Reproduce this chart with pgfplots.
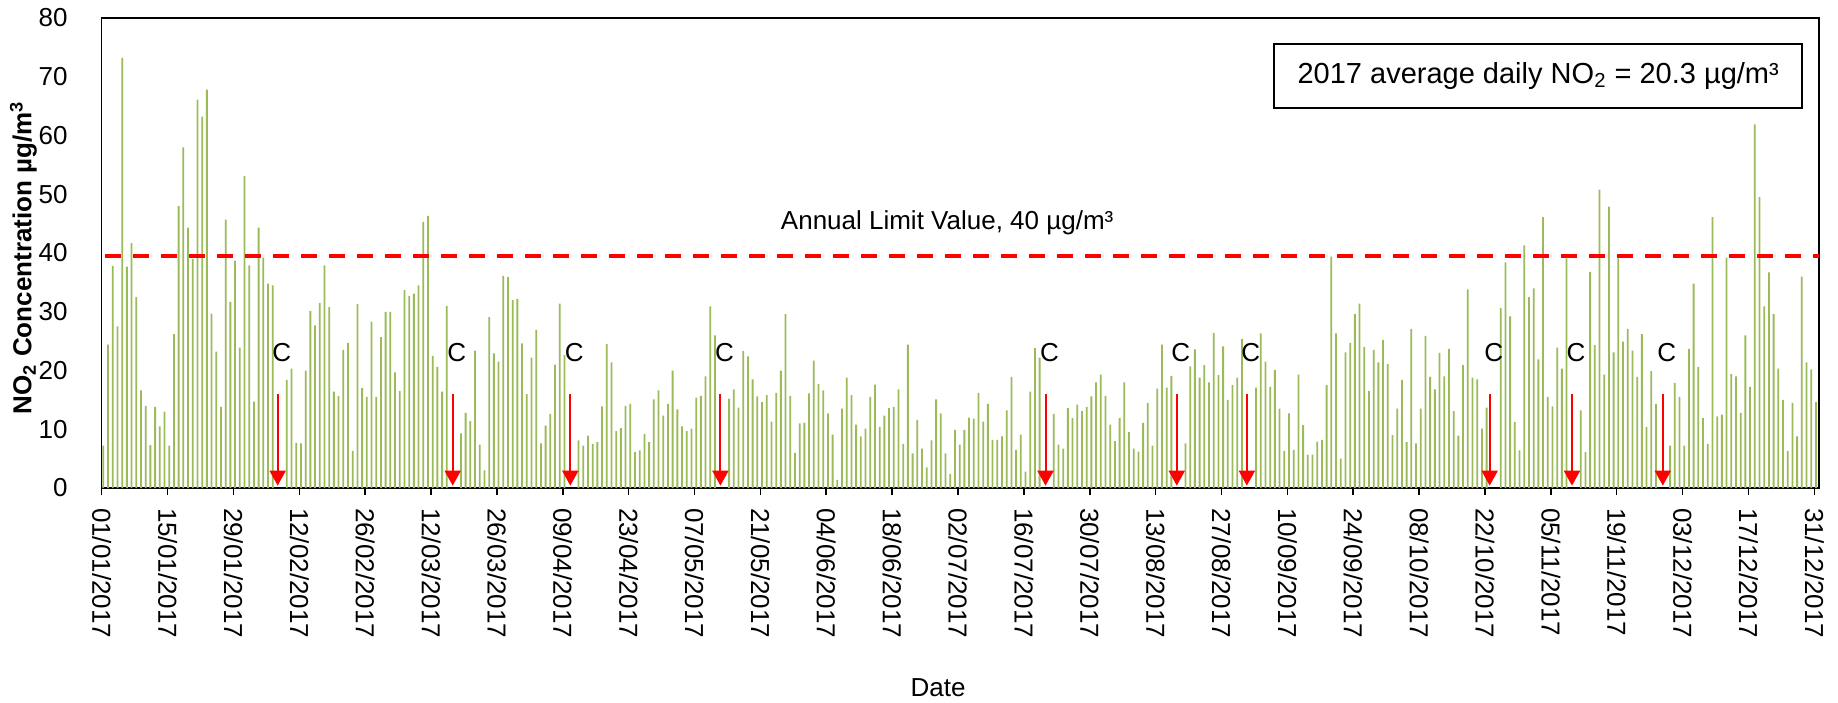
\documentclass[border=0pt]{standalone}
\usepackage{fontspec}
\setmainfont{Liberation Sans}
\usepackage{pgfplots}
\pgfplotsset{compat=1.18}
\usepackage{pgfplotstable}
\usetikzlibrary{arrows.meta,calc}
\definecolor{barG}{RGB}{155,187,89}

% daily mean NO2, day 0 = 01/01/2017 (calibration days left out)
\pgfplotstableread{
d v
0 7.2
1 24.4
2 37.8
3 27.5
4 73.2
5 37.7
6 41.7
7 32.5
8 16.6
9 14.0
10 7.3
11 13.8
12 10.5
13 13.0
14 7.2
15 26.2
16 48.0
17 58.0
18 44.3
19 39.0
20 66.1
21 63.2
22 67.8
23 29.7
24 23.2
25 13.8
26 45.7
27 31.7
28 38.7
29 23.9
30 53.1
31 37.9
32 14.7
33 44.3
34 39.2
35 34.8
36 34.5
39 18.4
40 20.3
41 7.7
42 7.6
43 20.0
44 30.1
45 27.7
46 31.5
47 37.9
48 30.8
49 16.4
50 15.7
51 23.5
52 24.7
53 6.3
54 31.3
55 17.0
56 15.5
57 28.3
58 15.5
59 25.7
60 30.0
61 30.0
62 19.7
63 16.5
64 33.7
65 32.7
66 33.1
67 34.5
68 45.3
69 46.3
70 22.5
71 20.6
72 16.4
73 31.0
76 9.3
77 12.8
78 11.4
79 23.4
80 7.4
81 3.0
82 29.1
83 22.9
84 21.5
85 36.1
86 35.9
87 32.0
88 32.2
89 24.6
90 16.0
91 22.2
92 26.9
93 7.6
94 10.6
95 12.6
96 21.0
97 31.4
98 22.6
101 8.1
102 7.2
103 8.9
104 7.5
105 7.8
106 13.9
107 24.5
108 21.4
109 9.7
110 10.2
111 14.0
112 14.3
113 6.1
114 6.4
115 9.2
116 7.8
117 15.1
118 16.6
119 12.3
120 14.3
121 20.0
122 13.4
123 10.5
124 9.7
125 10.1
126 15.4
127 15.7
128 19.0
129 30.9
130 26.0
133 15.2
134 16.8
135 13.7
136 23.3
137 22.4
138 18.5
139 15.6
140 14.6
141 15.8
142 11.3
143 16.2
144 20.0
145 29.6
146 15.7
147 6.0
148 11.0
149 11.1
150 16.1
151 21.7
152 17.7
153 16.6
154 12.7
155 9.1
156 1.4
157 13.5
158 18.8
159 15.8
160 10.8
161 8.8
162 10.1
163 15.5
164 17.6
165 10.4
166 12.3
167 13.6
168 13.8
169 16.8
170 7.5
171 24.4
172 5.9
173 11.6
174 6.7
175 3.5
176 8.1
177 15.1
178 12.7
179 5.9
180 2.4
181 9.9
182 7.4
183 9.9
184 12.0
185 11.8
186 16.2
187 11.3
188 14.3
189 8.2
190 8.2
191 8.8
192 13.2
193 18.9
194 6.5
195 9.1
196 2.8
197 16.4
198 23.8
199 22.2
202 12.6
203 7.4
204 6.7
205 13.6
206 11.9
207 14.2
208 13.1
209 13.8
210 15.6
211 18.0
212 19.3
213 15.7
214 10.8
215 8.0
216 11.9
217 18.0
218 9.5
219 6.7
220 6.2
221 11.1
222 14.5
223 7.2
224 16.9
225 24.4
226 17.1
227 19.1
230 7.6
231 20.7
232 23.6
233 18.8
234 20.9
235 18.0
236 26.4
237 19.2
238 24.1
239 15.0
240 17.5
241 18.8
242 25.4
245 17.1
246 26.3
247 21.5
248 17.2
249 20.1
250 13.5
251 6.3
252 12.7
253 6.5
254 19.3
255 10.7
256 5.7
257 5.7
258 7.9
259 8.2
260 17.5
261 39.4
262 26.3
263 5.0
264 23.1
265 24.7
266 29.6
267 31.4
268 24.0
269 16.5
270 23.5
271 21.4
272 25.2
273 21.1
274 9.0
275 13.5
276 18.4
277 7.8
278 27.1
279 7.6
280 13.5
281 25.9
282 18.9
283 16.8
284 23.0
285 19.0
286 23.7
287 13.1
288 8.9
289 20.9
290 33.8
291 18.8
292 18.5
293 10.1
294 13.7
297 30.6
298 38.4
299 29.2
300 11.2
301 6.4
302 41.3
303 32.5
304 34.0
305 21.9
306 46.1
307 15.5
308 13.9
309 23.9
310 20.3
311 39.1
314 13.2
315 6.1
316 36.8
317 24.3
318 50.8
319 19.3
320 47.9
321 23.1
322 39.1
323 24.9
324 27.1
325 23.4
326 18.9
327 26.2
328 10.4
329 19.9
330 14.3
333 7.2
334 17.9
335 15.5
336 7.2
337 23.7
338 34.8
339 20.6
340 11.9
341 7.5
342 46.1
343 12.2
344 12.5
345 39.2
346 19.4
347 19.0
348 12.8
349 26.0
350 17.2
351 61.9
352 49.5
353 30.9
354 36.7
355 29.6
356 20.3
357 15.0
358 6.3
359 14.5
360 8.8
361 36.0
362 21.4
363 20.2
364 14.6
}\notwo

% calibration markers (arrow tops)
\pgfplotstableread{
x y
37.4 16
74.6 16
99.6 16
131.5 16
200.6 16
228.5 16
243.4 16
295.0 16
312.5 16
331.8 16
}\calib

\begin{document}
\fontsize{13}{15.6}\selectfont
\begin{tikzpicture}
\begin{axis}[
    name=ax,
    scale only axis,
    width=858.65pt, height=235pt,
    xmin=0, xmax=365, ymin=0, ymax=80,
    ytick={0,10,...,80},
    xtick={0,14,...,364},
    xticklabels={01/01/2017,15/01/2017,29/01/2017,12/02/2017,26/02/2017,12/03/2017,26/03/2017,09/04/2017,23/04/2017,07/05/2017,21/05/2017,04/06/2017,18/06/2017,02/07/2017,16/07/2017,30/07/2017,13/08/2017,27/08/2017,10/09/2017,24/09/2017,08/10/2017,22/10/2017,05/11/2017,19/11/2017,03/12/2017,17/12/2017,31/12/2017},
    xticklabel style={rotate=-90, anchor=west},
    xticklabel shift=2pt,
    yticklabel shift=9pt,
    tick align=outside,
    xtick pos=bottom, ytick pos=left,
    major tick length=3.5pt,
    x tick style={black, line width=0.8pt},
    y tick style={draw=none},
    axis line style={line width=0.8pt},
    /pgf/number format/assume math mode=true,
    xlabel={Date},
    xlabel style={at={(axis description cs:0.487,-0.4255)}, anchor=center},
    ylabel={\bfseries NO\textsubscript{2} Concentration µg/m\textsuperscript{3}},
    ylabel style={at={(axis description cs:-0.0456,0.49)}, anchor=center},
    clip=false
]
\addplot[ybar, bar width=0.9pt, bar shift=0pt, fill=barG, draw=none]
    table[x expr=\thisrow{d}+0.35, y=v] {\notwo};
\addplot[red, line width=2pt, dash pattern=on 8pt off 6pt]
    coordinates {(0.7,39.5) (365,39.5)};
\addplot[red, line width=1pt, -{Triangle[width=8pt,length=7.5pt]},
    quiver={u=0, v=-15.6}] table[x=x, y=y] {\calib};
\node at (axis cs:38.25,23) {C};
\node at (axis cs:75.45,23) {C};
\node at (axis cs:100.45,23) {C};
\node at (axis cs:132.35,23) {C};
\node at (axis cs:201.45,23) {C};
\node at (axis cs:229.35,23) {C};
\node at (axis cs:244.25,23) {C};
\node at (axis cs:295.85,23) {C};
\node at (axis cs:313.35,23) {C};
\node at (axis cs:332.65,23) {C};
\node at (axis cs:179.7,45.2) {Annual Limit Value, 40 µg/m³};
\node[draw, line width=0.8pt, fill=white, anchor=north east,
    minimum width=264pt, minimum height=32pt,
    font=\fontsize{14.5}{17}\selectfont]
    at (axis cs:361.6,75.7) {2017 average daily NO\textsubscript{2} = 20.3 µg/m³};
\end{axis}
\pgfresetboundingbox
\path[use as bounding box] ($(ax.south west)+(-50.85pt,-107pt)$) rectangle ($(ax.north east)+(9.5pt,9pt)$);
\end{tikzpicture}
\end{document}
